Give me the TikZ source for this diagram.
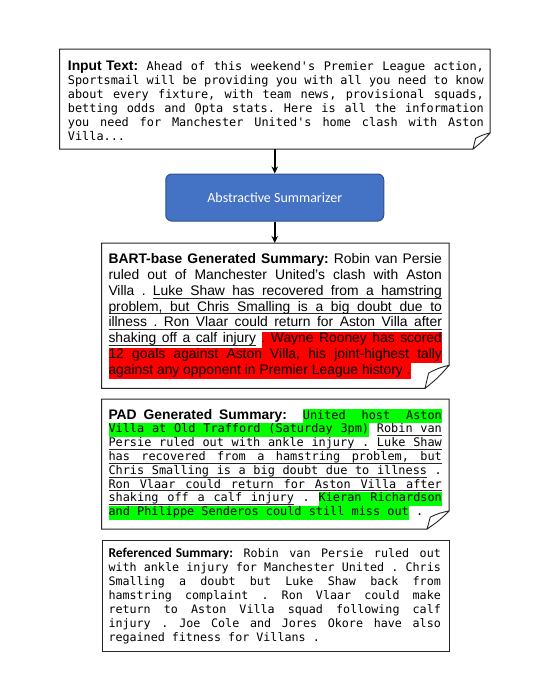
\documentclass[tikz,border=0pt]{standalone}
\usepackage{fontspec}
\setmainfont{Liberation Sans}
\setmonofont{DejaVu Sans Mono}[WordSpace={1,1.5,0.2},HyphenChar=None]
\newfontfamily\calib{Carlito}
\usetikzlibrary{arrows.meta,calc}
\definecolor{boxblue}{HTML}{4472C4}
\definecolor{boxblueline}{HTML}{2F528F}
\definecolor{hlgreen}{HTML}{00FF00}
\definecolor{hlred}{HTML}{FF0000}
\definecolor{ulcol}{HTML}{262626}
\ExplSyntaxOn
\seq_new:N \l_my_words_seq
\cs_new_protected:Npn \my_mark:nnnn #1#2#3#4
 {
  \seq_set_split:Nnn \l_my_words_seq { ~ } { #4 }
  \seq_map_indexed_inline:Nn \l_my_words_seq
   {
     \int_compare:nNnF { ##1 } = { 1 }
      {
        \group_begin: \color{#1}
        \leaders \vrule height #2 depth #3
        \hskip \fontdimen2\font plus \fontdimen3\font minus \fontdimen4\font
        \group_end:
      }
     \hbox_set:Nn \l_tmpa_box { \color{black} ##2 }
     \group_begin: \color{#1}
     \vrule width \box_wd:N \l_tmpa_box height #2 depth #3
     \group_end:
     \kern -\box_wd:N \l_tmpa_box
     \box_use:N \l_tmpa_box
   }
 }
\NewDocumentCommand \HLr { m } { \my_mark:nnnn {hlred} {\ht\strutbox} {\dp\strutbox} {#1} }
\NewDocumentCommand \HLg { m } { \my_mark:nnnn {hlgreen} {\ht\strutbox} {\dp\strutbox} {#1} }
\NewDocumentCommand \UL { m } { \my_mark:nnnn {ulcol} {-2.4pt} {3.2pt} {#1} }
\ExplSyntaxOff
\newcommand\labA[1]{{\rmfamily\bfseries\fontsize{13.86}{14}\selectfont #1}}
\newcommand\labC[1]{{\calib\bfseries\fontsize{13.5}{14}\selectfont #1}}
\newcommand\setpar{\hyphenpenalty=10000\exhyphenpenalty=10000\tolerance=10000\frenchspacing}
\newcommand\foldframe[3]{% node, fold w, fold h
  \draw[frame] (#1.north west) -- (#1.north east) -- ($(#1.south east)+(0,-#3)$)
     -- ($(#1.south east)+(-#2,0)$) -- (#1.south west) -- cycle;
  \draw[flap] ($(#1.south east)+(-#2,0)$) -- ($(#1.south east)+(-0.85*#2,-0.66*#3)$)
     to[bend left=8] ($(#1.south east)+(0,-#3)$) to[bend left=6] ($(#1.south east)+(-#2,0)$) -- cycle;
}
\begin{document}
\begin{tikzpicture}[x=1pt,y=-1pt,
  frame/.style={draw=black!85,line width=1pt,fill=white},
  flap/.style={draw=black!85,line width=0.9pt,fill=white,line join=round},
  region/.style={inner sep=0pt,outer sep=0pt,anchor=north west},
  txt/.style={inner sep=0pt,anchor=base west,align=justify},
  arr/.style={line width=1.5pt,-{Stealth[length=7pt,width=6.5pt]}}]
\useasboundingbox (0,0) rectangle (538,694);

% regions
\node[region,minimum width=430.5,minimum height=100] (inbox) at (59.5,49) {};
\node[region,minimum width=347.5,minimum height=145.3] (bart) at (101.5,243) {};
\node[region,minimum width=347.5,minimum height=130] (pad) at (101.5,399) {};
\node[region,minimum width=347,minimum height=111] (ref) at (102,540) {};

\foldframe{inbox}{17}{16}
\foldframe{bart}{24}{23}
\foldframe{pad}{22}{18}
\draw[frame] (ref.north west) rectangle (ref.south east);

% summarizer
\node[draw=boxblueline,fill=boxblue,rounded corners=6pt,line width=1pt,
  minimum width=218,minimum height=47,inner sep=0pt,text=white,
  font=\calib\fontsize{14}{16}\selectfont] (summ) at (274.75,197.5) {Abstractive Summarizer};

\draw[arr] (inbox.south) -- (summ.north);
\draw[arr] (summ.south) -- (summ.south |- bart.north);

% texts
\node[txt,text width=416,font=\ttfamily\fontsize{11.88}{14}\selectfont] (intext) at (67.7,70) {%
\setpar
\labA{Input Text:} Ahead of this weekend's Premier League action,\linebreak
Sportsmail will be providing you with all you need to know\linebreak
about every fixture, with team news, provisional squads,\linebreak
betting odds and Opta stats. Here is all the information\linebreak
you need for Manchester United's home clash with Aston\linebreak
Villa...};

\node[txt,text width=333.4,font=\rmfamily\fontsize{13.86}{15.85}\selectfont] (barttext) at (108.3,263.5) {%
\setpar
{\bfseries BART-base Generated Summary:} Robin van Persie\linebreak
ruled out of Manchester United's clash with Aston\linebreak
Villa . \UL{Luke Shaw has recovered from a hamstring}\linebreak
\UL{problem, but Chris Smalling is a big doubt due to}\linebreak
\UL{illness . Ron Vlaar could return for Aston Villa after}\linebreak
\UL{shaking off a calf injury} \HLr{. Wayne Rooney has scored}\linebreak
\HLr{12 goals against Aston Villa, his joint-highest tally}\linebreak
\HLr{against any opponent in Premier League history .}};

\node[txt,text width=333.4,font=\ttfamily\fontsize{11.88}{13.8}\selectfont] (padtext) at (108.3,419) {%
\setpar
\labA{PAD Generated Summary:} \HLg{United host Aston}\linebreak
\HLg{Villa at Old Trafford (Saturday 3pm)} \UL{Robin van}\linebreak
\UL{Persie ruled out with ankle injury .} \UL{Luke Shaw}\linebreak
\UL{has recovered from a hamstring problem, but}\linebreak
\UL{Chris Smalling is a big doubt due to illness} .\linebreak
\UL{Ron Vlaar could return for Aston Villa after}\linebreak
\UL{shaking off a calf injury} . \HLg{Kieran Richardson}\linebreak
\HLg{and Philippe Senderos could still miss out} .};

\node[txt,text width=332.4,font=\ttfamily\fontsize{11.7}{13.9}\selectfont] (reftext) at (108.3,557.7) {%
\setpar
\labC{Referenced Summary:} Robin van Persie ruled out\linebreak
with ankle injury for Manchester United . Chris\linebreak
Smalling a doubt but Luke Shaw back from\linebreak
hamstring complaint . Ron Vlaar could make\linebreak
return to Aston Villa squad following calf\linebreak
injury . Joe Cole and Jores Okore have also\linebreak
regained fitness for Villans .};
\end{tikzpicture}
\end{document}
